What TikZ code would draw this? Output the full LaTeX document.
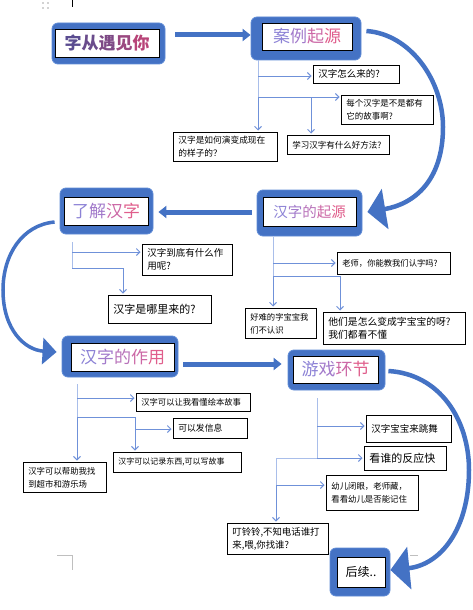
\documentclass[tikz,border=0pt]{standalone}
\usepackage{fontspec}
\setmainfont{Noto Sans CJK SC}
\usepackage{xcolor}
\usetikzlibrary{arrows.meta,calc}

\definecolor{boxblue}{HTML}{4472C4}
\definecolor{rimblue}{HTML}{5F8BD6}
\definecolor{trunkblue}{HTML}{A9BEEA}
\definecolor{branchblue}{HTML}{6F91D9}
\definecolor{ga}{HTML}{8C82D6}
\definecolor{gb}{HTML}{A27ACB}
\definecolor{gc}{HTML}{B872BA}
\definecolor{gd}{HTML}{CC68A6}
\definecolor{ge}{HTML}{E05E8C}
\definecolor{da}{HTML}{5A4C90}
\definecolor{db}{HTML}{6A4C8C}
\definecolor{dc}{HTML}{7E4A86}
\definecolor{dd}{HTML}{9A4880}
\definecolor{de}{HTML}{B84478}

\newcommand{\gfive}[5]{\textcolor{ga}{#1}\textcolor{gb}{#2}\textcolor{gc}{#3}\textcolor{gd}{#4}\textcolor{ge}{#5}}
\newcommand{\gfour}[4]{\textcolor{ga}{#1}\textcolor{gb}{#2}\textcolor{gd}{#3}\textcolor{ge}{#4}}
\newcommand{\dfive}[5]{\textcolor{da}{#1}\textcolor{db}{#2}\textcolor{dc}{#3}\textcolor{dd}{#4}\textcolor{de}{#5}}

\tikzset{
  frame/.style 2 args={fill=boxblue, draw=rimblue, line width=0.8pt, rounded corners=6pt,
    inner sep=0pt, minimum width=#1pt, minimum height=#2pt},
  ttl/.style 2 args={draw=black, fill=white, line width=0.8pt, inner sep=0pt,
    minimum width=#1pt, minimum height=#2pt},
  ttlfont/.style={font=\fontsize{17}{17}\selectfont},
  qbox/.style 2 args={draw=black, fill=white, line width=0.7pt, anchor=north west,
    inner xsep=5pt, inner ysep=1pt, align=left, text width={\the\dimexpr#1pt-10pt\relax}, minimum height=#2pt},
  fs/.style={font=\fontsize{#1}{13}\selectfont},
  trunk/.style={draw=trunkblue, line width=1pt},
  branch/.style={draw=branchblue, line width=0.9pt, -{Straight Barb[length=3.5pt,width=7pt]}, shorten >=1.5pt},
  fatarrow/.style={draw=boxblue, line width=5pt, -{Triangle[length=8pt,width=12pt]}},
  bendarrow/.style={draw=boxblue}
}

\begin{document}
\begin{tikzpicture}[x=1pt, y=-1pt, thick]
\fill[white] (0,0) rectangle (473,610);
\useasboundingbox (0,0) rectangle (473,610);

\foreach \dx in {43,48}
  \foreach \dy in {3,8}
    \fill[gray!70] (\dx,\dy) circle (0.9pt);
\draw[black, line width=1pt] (72,0) -- (72,7);
\draw[gray!50, line width=0.6pt] (57,555) -- (72,555) -- (72,570);
\draw[gray!50, line width=0.6pt] (410,555) -- (418,555);

\node[frame={113}{41}] (yujian) at (108.5,43.5) {};
\node[ttl={104}{28}, font=\fontsize{17}{17}\selectfont\bfseries] (yujian-t) at (107,43) {\dfive{字}{从}{遇}{见}{你}};
\node[frame={110}{43}] (anli) at (306,38.5) {};
\node[ttl={90}{27}, ttlfont] (anli-t) at (307,36.5) {\gfour{案}{例}{起}{源}};
\node[frame={105}{46}] (qiyuan) at (309.5,213) {};
\node[ttl={93}{29}, font=\fontsize{14.5}{15}\selectfont] (qiyuan-t) at (309.5,211.5) {\gfive{汉}{字}{的}{起}{源}};
\node[frame={93}{46}] (liaojie) at (106.5,211) {};
\node[ttl={84}{28}, ttlfont] (liaojie-t) at (106,211) {\gfour{了}{解}{汉}{字}};
\node[frame={116}{41}] (zuoyong) at (120,356.5) {};
\node[ttl={103}{28}, ttlfont] (zuoyong-t) at (122.5,357) {\gfive{汉}{字}{的}{作}{用}};
\node[frame={97}{40}] (youxi) at (336.5,370) {};
\node[ttl={85}{27}, ttlfont] (youxi-t) at (335.5,369.5) {\gfour{游}{戏}{环}{节}};
\node[frame={60}{48}] (houxu) at (360,572) {};
\node[ttl={48}{30}, font=\fontsize{12}{12}\selectfont] (houxu-t) at (361,572) {后续..};

\node[qbox={86}{18}, fs=9.5] (a1) at (313,65) {汉字怎么来的?};
\node[qbox={92}{29}, fs=8.5] (a2) at (341,95) {每个汉字是不是都有\\它的故事啊?};
\node[qbox={104}{29}, fs=8.7] (a3) at (173,132) {汉字是如何演变成现在\\的样子的？};
\node[qbox={102}{19}, fs=8.5] (a4) at (287,135) {学习汉字有什么好方法?};
\node[qbox={90}{31}, fs=9.5] (b1) at (142,244) {汉字到底有什么作\\用呢?};
\node[qbox={103}{28}, fs=11] (b2) at (108,295) {汉字是哪里来的?};
\node[qbox={113}{22}, fs=8.3] (c1) at (337,252) {老师，你能教我们认字吗?};
\node[qbox={71}{30}, fs=8.3] (c2) at (245,308) {好难的字宝宝我\\们不认识};
\node[qbox={142}{32}, fs=9.8] (c3) at (323,312) {他们是怎么变成字宝宝的呀?\\我们都看不懂};
\node[qbox={114}{18}, fs=8.3] (d1) at (136,393) {汉字可以让我看懂绘本故事};
\node[qbox={74}{20}, fs=8.8] (d2) at (173,418) {可以发信息};
\node[qbox={128}{20}, fs=8] (d3) at (113,452) {汉字可以记录东西,可以写故事};
\node[qbox={83}{30}, fs=8.4] (d4) at (23,462) {汉字可以帮助我找\\到超市和游乐场};
\node[qbox={85}{27}, fs=9.5] (e1) at (366,415) {汉字宝宝来跳舞};
\node[qbox={82}{24}, fs=11] (e2) at (364,446) {看谁的反应快};
\node[qbox={92}{35}, fs=8.4] (e3) at (326,475) {幼儿闭眼，老师藏，\\看看幼儿是否能记住};
\node[qbox={101}{31}, fs=9.4] (e4) at (227,523) {叮铃铃,不知电话谁打\\来,喂,你找谁?};

\draw[fatarrow] ($(yujian.east)+(10,-8.5)$) -- ($(anli.west)+(0,-3.5)$);
\draw[fatarrow] ($(qiyuan.west)+(-5,-1)$) -- ($(liaojie.east)+(5,1)$);
\draw[fatarrow] ($(zuoyong.east)+(5,7.5)$) -- ($(youxi.west)+(-6,-6)$);

\draw[bendarrow, line width=4.5pt, -{Triangle[length=18pt,width=40pt]}]
  ($(anli.east)+(5,-7.5)$) .. controls (410,34) and (443,80) .. (443,127)
  .. controls (443,180) and (415,204) .. ($(qiyuan.east)+(5,-1)$);
\draw[bendarrow, line width=3.5pt, -{Triangle[length=14pt,width=26pt]}]
  ($(liaojie.west)+(-5,11)$) .. controls (22,225) and (3,255) .. (3,290)
  .. controls (3,330) and (25,350) .. ($(zuoyong.west)+(-5,-4.5)$);
\draw[bendarrow, line width=4.5pt, -{Triangle[length=19pt,width=42pt]}]
  ($(youxi.east)+(3,1)$) .. controls (440,374) and (469,420) .. (469,470)
  .. controls (469,530) and (440,565) .. ($(houxu.east)+(0,-2)$);

\coordinate (a-0) at (258,60);
\coordinate (a-1) at (258,76);
\coordinate (a-2) at (258,97);
\coordinate (a-3) at (311,97);
\draw[trunk] (a-0) -- (a-2);
\draw[branch] (a-1) -- (a-1 -| a1.west);
\draw[branch] (a-2) -- (a-2 -| a2.west);
\draw[branch] (a-2) -- (a-2 |- a3.north);
\draw[branch] (a-3) -- (a-3 |- a4.north);

\coordinate (c-0) at (273,237);
\coordinate (c-1) at (273,263);
\coordinate (c-2) at (273,276);
\coordinate (c-3) at (340,276);
\draw[trunk] (c-0) -- (c-2);
\draw[branch] (c-1) -- (c-1 -| c1.west);
\draw[branch] (c-2) -- (c-2 |- c2.north);
\draw[branch] (c-2) -- (c-3) -- (c-3 |- c3.north);

\coordinate (b-0) at (72,242);
\coordinate (b-1) at (72,252);
\coordinate (b-2) at (72,268);
\coordinate (b-3) at (123,268);
\draw[trunk] (b-0) -- (b-2);
\draw[branch] (b-1) -- (b-1 -| b1.west);
\draw[branch] (b-2) -- (b-3) -- (b-3 |- b2.north);

\coordinate (d-0) at (77,384);
\coordinate (d-1) at (77,398);
\coordinate (d-2) at (77,417);
\coordinate (d-3) at (135,417);
\coordinate (d-4) at (135,429);
\draw[trunk] (d-0) -- (d-2);
\draw[branch] (d-1) -- (d-1 -| d1.west);
\draw[branch] (d-2) -- (d-2 |- d4.north);
\draw[branch] (d-2) -- (d-3) -- (d-3 |- d3.north);
\draw[branch] (d-4) -- (d-4 -| d2.west);

\coordinate (e-0) at (317,398);
\coordinate (e-1) at (317,426);
\coordinate (e-2) at (317,458);
\coordinate (e-3) at (276,458);
\coordinate (e-4) at (276,485);
\draw[trunk] (e-0) -- (e-2) -- (e-3) -- (e-4);
\draw[branch] (e-1) -- (e-1 -| e1.west);
\draw[branch] (e-2) -- (e-2 -| e2.west);
\draw[branch] (e-4) -- (e-4 -| e3.west);
\draw[branch] (e-4) -- (e-4 |- e4.north);
\end{tikzpicture}
\end{document}
